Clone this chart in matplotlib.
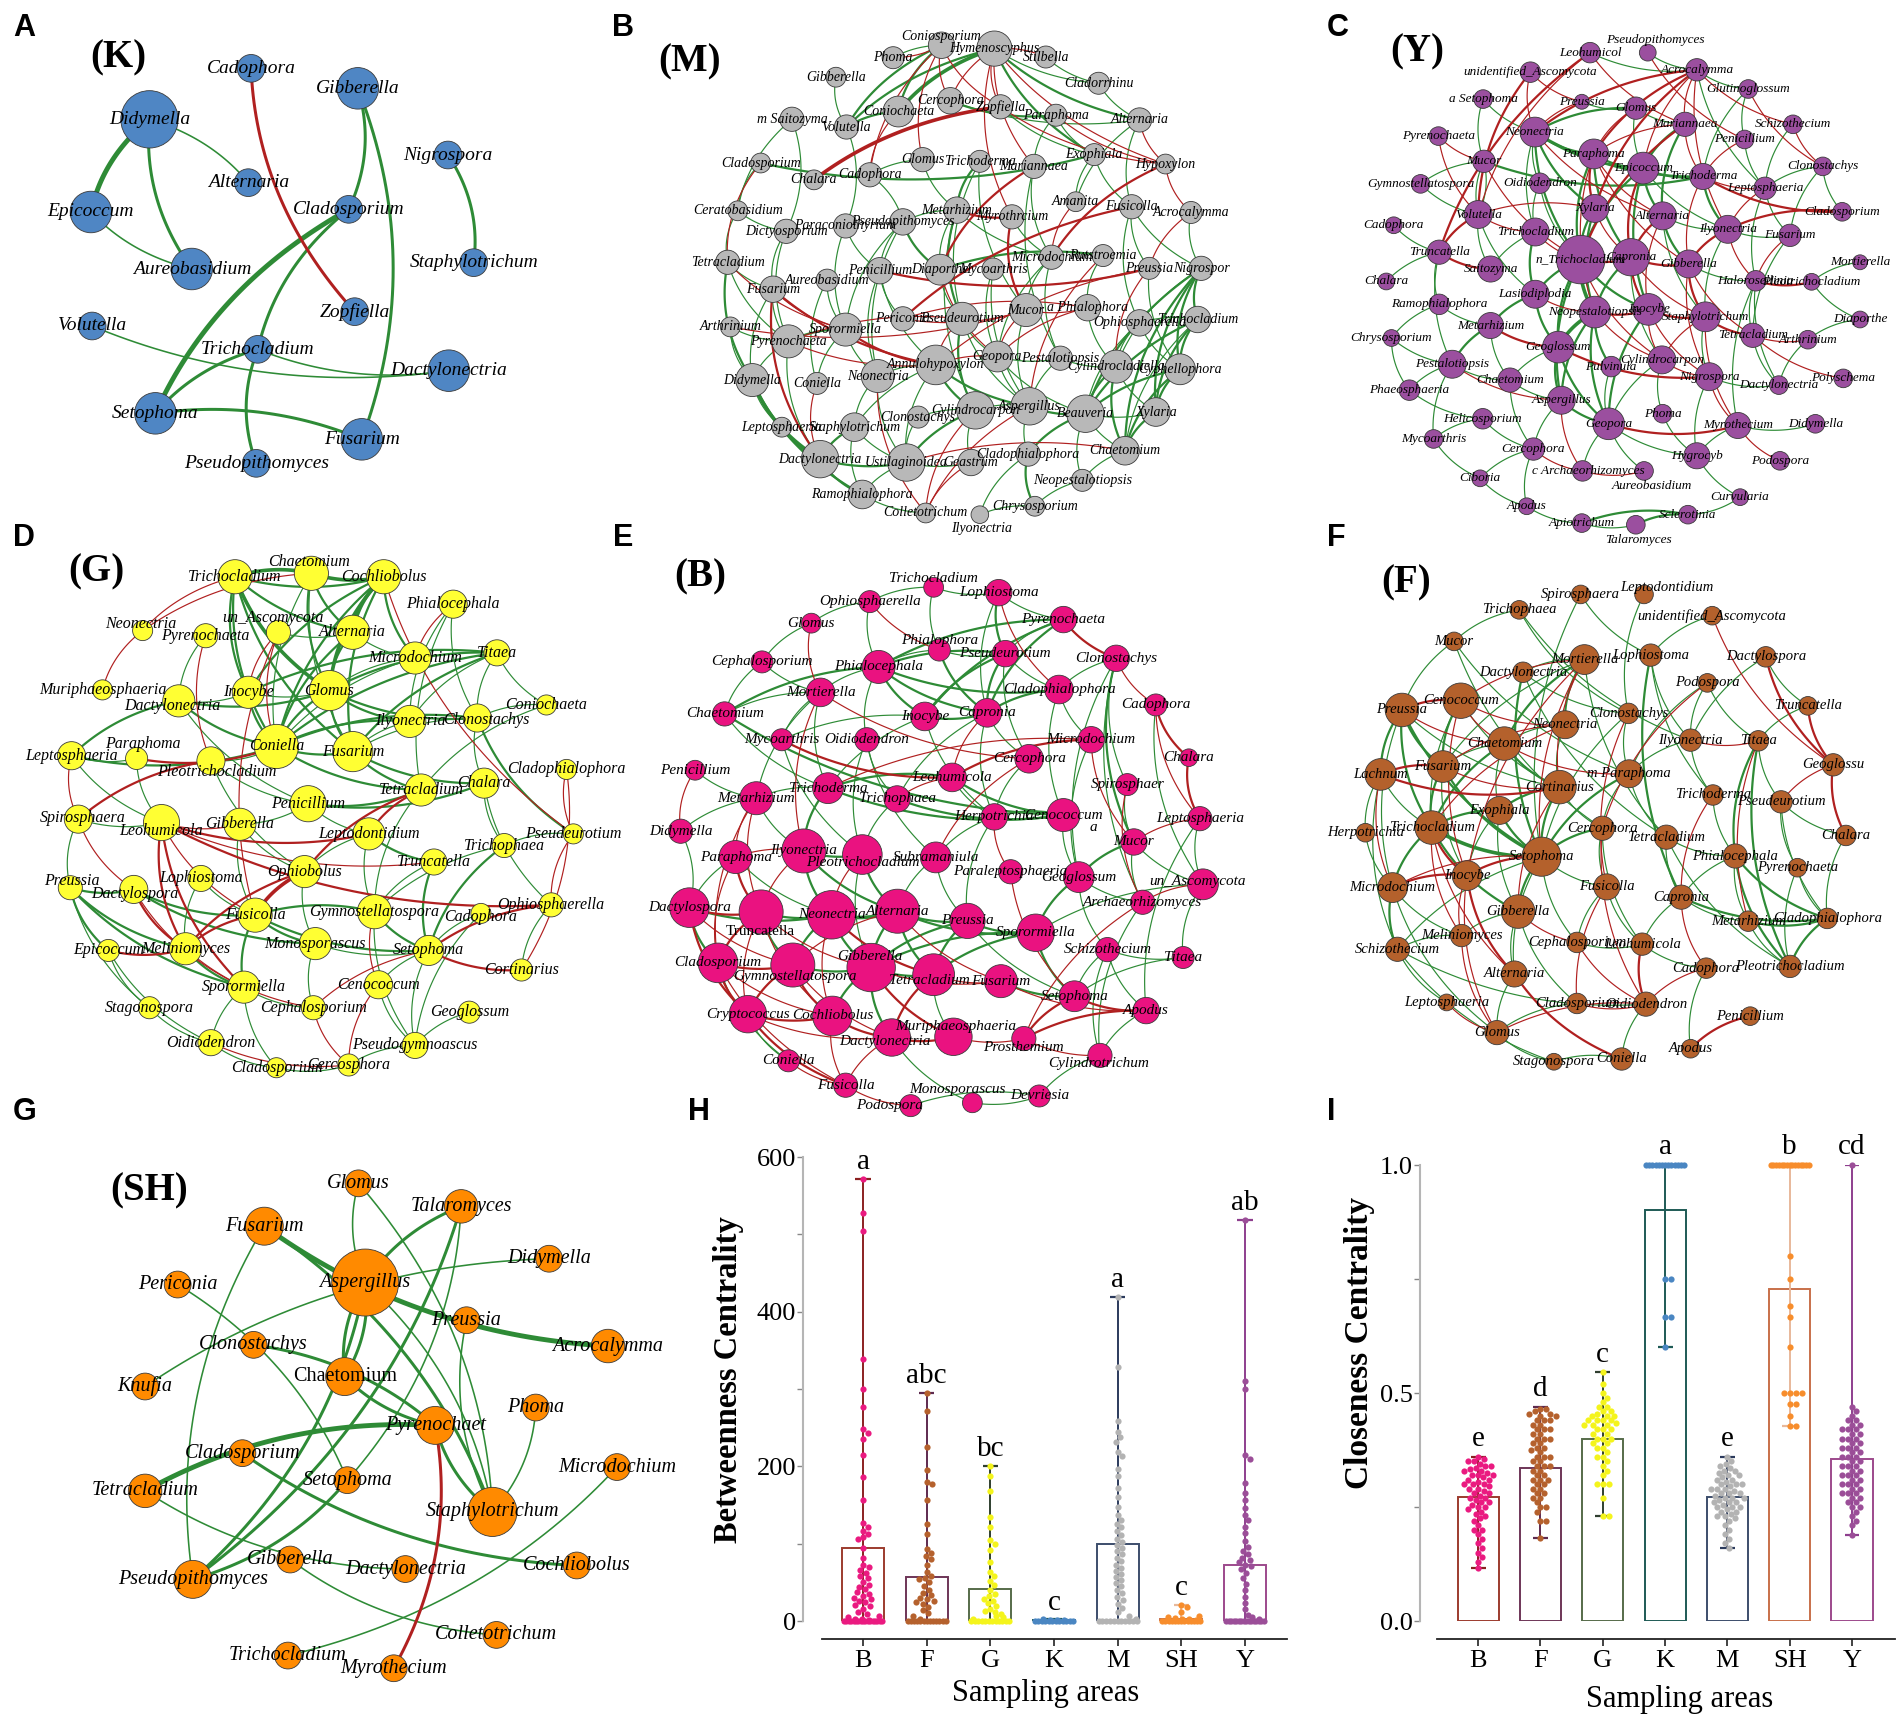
import numpy as np
import matplotlib.pyplot as plt
from matplotlib.collections import LineCollection

plt.rcParams['font.family'] = ['Liberation Serif', 'DejaVu Serif']

W, H = 1904, 1725
GREEN = '#2e8b36'
RED = '#b02020'

# ---------------- network panels ----------------
# node = (name, x, y, diameter[, label_x, label_y]) in the panel's own units
# edges "i-j:w"  (w = 1 thin, 2 medium, 3 thick)

k_nodes = [
    ("Cadophora", 635, 205, 70), ("Gibberella", 905, 265, 105),
    ("Didymella", 378, 358, 145), ("Nigrospora", 1133, 465, 70),
    ("Alternaria", 628, 548, 70), ("Epicoccum", 230, 636, 105),
    ("Cladosporium", 882, 628, 70), ("Staphylotrichum", 1198, 788, 70),
    ("Aureobasidium", 485, 807, 105), ("Zopfiella", 897, 935, 70),
    ("Volutella", 233, 978, 70), ("Trichocladium", 652, 1048, 70),
    ("Dactylonectria", 1135, 1112, 105), ("Setophoma", 393, 1240, 105),
    ("Fusarium", 915, 1318, 105), ("Pseudopithomyces", 648, 1390, 70),
]
k_green = "2-5:3 2-8:2 4-2 5-8 6-1:2 14-1:2 7-3:2 6-13:3 6-11:2 11-13:2 11-15:2 11-12 10-12 14-13:2"
k_red = "0-9:2"

sh_nodes = [
    ("Glomus", 803, 210, 60), ("Talaromyces", 1033, 268, 75), ("Fusarium", 592, 318, 85),
    ("Didymella", 1230, 400, 60), ("Aspergillus", 818, 460, 150), ("Periconia", 398, 465, 60),
    ("Preussia", 1045, 555, 60), ("Clonostachys", 568, 617, 60), ("Acrocalymma", 1362, 620, 75),
    ("Knufia", 325, 722, 60), ("Chaetomium", 772, 697, 85), ("Phoma", 1200, 775, 60),
    ("Pyrenochaet", 975, 820, 85), ("Cladosporium", 543, 890, 60), ("Microdochium", 1382, 925, 60),
    ("Setophoma", 778, 958, 60), ("Tetracladium", 325, 985, 75), ("Staphylotrichum", 1103, 1038, 110),
    ("Gibberella", 650, 1158, 60), ("Dactylonectria", 908, 1182, 60), ("Cochliobolus", 1292, 1173, 60),
    ("Pseudopithomyces", 432, 1208, 85), ("Colletotrichum", 1112, 1348, 60),
    ("Trichocladium", 645, 1400, 60), ("Myrothecium", 882, 1432, 60),
]
sh_green = ("2-8:3 17-2:2 2-21 0-4 17-0 1-4:2 15-1 21-1:2 3-9 4-10:2 10-4:2 21-4:2 17-4 "
            "15-5 12-7:2 10-12:2 6-17 12-16:3 16-19 12-17:2 17-11 13-20:2 23-14 18-22 21-15:2")
sh_red = "24-12:2"

m_nodes = [
    ("Coniosporium", 708, 75, 60, 708, 50), ("Hymenoscyphus", 828, 85, 80), ("Phoma", 598, 112, 50),
    ("Stilbella", 945, 110, 50), ("Gibberella", 468, 170, 45), ("Cladorrhinu", 1065, 188, 50),
    ("Cercophora", 728, 240, 60), ("Zopfiella", 842, 258, 55), ("Coniochaeta", 610, 272, 70),
    ("Paraphoma", 968, 283, 50), ("Alternaria", 1158, 297, 55), ("m Saitozyma", 368, 295, 55),
    ("Volutella", 492, 318, 55), ("Cladosporium", 297, 425, 45), ("Glomus", 665, 415, 55),
    ("Trichoderma", 795, 420, 50), ("Exophiala", 1055, 400, 50), ("Hypoxylon", 1217, 428, 45),
    ("Chalara", 418, 475, 45), ("Cadophora", 545, 460, 55), ("Mariannaea", 918, 435, 55),
    ("Amanita", 1013, 540, 45), ("Fusicolla", 1140, 555, 55), ("Acrocalymma", 1275, 572, 50),
    ("Ceratobasidium", 245, 567, 45), ("Metarhizium", 743, 565, 60), ("Myrothrcium", 868, 585, 55),
    ("Pseudopithomyces", 620, 600, 60), ("Paraconiothyrium", 490, 612, 55),
    ("Dictyosporium", 355, 628, 55), ("Rutstroemia", 1075, 700, 50), ("Microdochium", 958, 705, 55),
    ("Tetracladium", 222, 720, 55), ("Diaporthe", 705, 742, 70), ("Mycoarthris", 825, 740, 50),
    ("Preussia", 1180, 738, 50), ("Nigrospor", 1298, 738, 55), ("Penicillium", 568, 745, 60),
    ("Aureobasidium", 448, 773, 50), ("Fusarium", 325, 800, 60), ("Pseudeurotium", 755, 888, 75),
    ("Mucor", 900, 862, 75), ("a Phialophora", 1040, 855, 60), ("Trichocladium", 1290, 890, 60),
    ("Ophiosphaerella", 1158, 900, 60), ("Periconia", 620, 888, 55), ("Arthrinium", 228, 912, 45),
    ("Sporormiella", 490, 920, 75), ("Pyrenochaeta", 360, 955, 75), ("Geopora", 835, 1000, 70),
    ("Pestalotiopsis", 978, 1005, 55), ("Cylindrocladiella", 1105, 1030, 75),
    ("Cyphellophora", 1250, 1038, 70), ("Annulohypoxylon", 695, 1025, 90),
    ("Neonectria", 563, 1058, 75), ("Didymella", 278, 1070, 75), ("Coniella", 425, 1080, 50),
    ("Aspergillus", 908, 1148, 85), ("Cylindrocarpon", 785, 1160, 85), ("Beauveria", 1035, 1170, 85),
    ("Xylaria", 1195, 1165, 65), ("Clonostachys", 655, 1180, 50), ("Leptosphaeria", 345, 1210, 45),
    ("Staphylotrichum", 510, 1210, 65), ("Chaetomium", 1125, 1280, 65),
    ("Cladophialophora", 905, 1290, 55), ("Dactylonectria", 432, 1305, 85),
    ("Ustilaginoidea", 628, 1315, 85), ("Geastrum", 775, 1315, 60),
    ("Neopestalotiopsis", 1028, 1368, 50), ("Ramophialophora", 528, 1410, 65),
    ("Chrysosporium", 920, 1445, 45), ("Colletotrichum", 672, 1465, 45),
    ("Ilyonectria", 795, 1470, 40, 800, 1510),
]
m_green = ("1-8:3 0-8:2 0-12:2 1-12:2 8-12:2 1-16:2 1-5 3-5 5-10 1-10:2 0-2 "
           "4-12 11-24 13-24 24-32 32-55:2 32-39 46-55 55-66:3 66-70:2 70-72 55-70:2 62-66 "
           "14-19 14-25 15-25:2 15-40 15-41 13-16:2 6-9:2 6-10 7-16 9-16 9-20 10-22 10-21 16-21 16-22 "
           "20-50 20-31 22-35 22-44 22-36 23-36 24-29 25-27 25-31 25-33 25-40:2 25-58 26-31 "
           "27-33:2 27-47 27-54 27-37 27-19 28-47 28-12 28-37 29-39 29-48 29-11 30-42 30-33:2 "
           "31-49 31-41 31-50 32-48 33-40 34-57 34-49 35-52 36-43:2 36-52:2 36-60:2 36-59:2 36-64:2 36-51 "
           "37-45 37-53 37-54 38-56 38-47 39-48 39-55 40-58:2 40-49 40-57 41-57 42-51 43-52:2 43-59:2 "
           "43-60:2 43-64 43-44 44-52 44-59 44-51 46-48 47-48:2 47-56 47-54 48-55 48-66 49-59 49-57 49-50 "
           "50-57 50-51 51-59:2 51-60 51-64:2 52-59:2 52-60:2 52-64:2 53-57:2 53-58:2 53-67 53-54 53-63 "
           "54-67 54-63 55-62 57-59:2 57-58 57-65 58-67:2 58-68 58-61 59-64 59-65:2 59-69 59-60 60-64:2 "
           "61-67 63-66:2 63-67 63-70 64-69 65-71:2 65-73 66-67:2 67-70 67-68 69-71 71-73")
m_red = ("0-7 1-7 7-17 0-6 1-6 0-14 1-20 1-26 0-19 2-0 3-1 1-17 8-19 7-18:3 9-17 10-17 "
         "13-32 17-23 17-31:2 20-33:2 21-31 22-45:2 23-35 25-26:2 26-41:2 30-57 32-47 37-35:2 "
         "33-49 35-51 35-53 39-53:2 39-66:2 39-47 40-53 40-48 41-49 41-42 42-49 42-45 45-41 46-41 "
         "47-53:2 48-53 49-53 54-72 56-66 57-72 58-72 64-67 68-72")

y_nodes = [
    ("Pseudopithomyces", 880, 97, 45, 900, 58), ("Leohumicol", 725, 97, 55),
    ("unidentified_Ascomycota", 565, 155, 55), ("Acrocalymma", 1012, 148, 60),
    ("Glutinoglossum", 1150, 205, 50), ("a Setophoma", 438, 235, 50), ("Preussia", 703, 243, 40),
    ("Glomus", 848, 262, 60), ("Schizothecium", 1270, 310, 50), ("Mariannaea", 980, 310, 65),
    ("Pyrenochaeta", 318, 345, 50), ("Neonectria", 577, 333, 80), ("Penicillium", 1140, 355, 50),
    ("Paraphoma", 735, 398, 80), ("Mucor", 440, 420, 60), ("Epicoccum", 868, 440, 85),
    ("Clonostachys", 1350, 435, 50), ("Trichoderma", 1028, 465, 70),
    ("Gymnostellatospora", 270, 487, 50), ("Oidiodendron", 590, 485, 55),
    ("Leptosphaeria", 1195, 500, 60), ("Xylaria", 738, 560, 75), ("Alternaria", 920, 582, 75),
    ("Volutella", 425, 578, 75), ("Cladosporium", 1402, 570, 50), ("Cadophora", 198, 610, 45),
    ("Ilyonectria", 1095, 622, 75), ("Fusarium", 1262, 640, 60), ("Trichocladium", 578, 630, 75),
    ("Truncatella", 320, 690, 65), ("n_Trichocladium", 700, 712, 130), ("Capronia", 835, 705, 100),
    ("Gibberella", 990, 725, 75), ("Mortierella", 1450, 720, 40), ("Saitozyma", 458, 740, 70),
    ("Halorosellinia", 1170, 775, 55), ("Pleotrichocladium", 1320, 778, 45), ("Chalara", 178, 777, 45),
    ("Lasiodiplodia", 578, 815, 75), ("Ramophialophora", 320, 845, 55),
    ("Neopestalotiopsis", 738, 868, 85), ("Inocybe", 882, 860, 85), ("Staphylotrichum", 1035, 882, 80),
    ("Diaporthe", 1450, 890, 45), ("Metarhizium", 458, 908, 70), ("Chrysosporium", 192, 945, 45),
    ("Tetracladium", 1162, 937, 65), ("Arthrinium", 1310, 950, 50), ("Geoglossum", 640, 972, 85),
    ("Cylindrocarpon", 918, 1010, 75), ("Pestalotiopsis", 355, 1023, 75), ("Pulvinula", 782, 1030, 55),
    ("Nigrospora", 1045, 1060, 75), ("Chaetomium", 510, 1070, 65), ("Polyschema", 1405, 1065, 50),
    ("Dactylonectria", 1232, 1085, 50), ("Phaeosphaeria", 240, 1100, 55), ("Aspergillus", 648, 1130, 75),
    ("Phoma", 920, 1170, 50), ("Helicosporium", 437, 1185, 55), ("Geopora", 775, 1200, 85),
    ("Myrothecium", 1122, 1205, 70), ("Didymella", 1330, 1200, 50), ("Mycoarthris", 305, 1245, 50),
    ("Cercophora", 573, 1275, 60), ("Hygrocyb", 1012, 1295, 70), ("Podospora", 1235, 1310, 50),
    ("c Archaeorhizomyces", 705, 1340, 55, 720, 1340), ("Aureobasidium", 870, 1340, 50, 890, 1385),
    ("Ciboria", 430, 1362, 45), ("Curvularia", 1128, 1418, 45), ("Apodus", 555, 1445, 45),
    ("Sclerotinia", 988, 1470, 50), ("Apiotrichum", 703, 1495, 50),
    ("Talaromyces", 848, 1500, 50, 855, 1545),
]
y_green = ("1-3 3-4 3-20 4-12 4-17 5-11 5-14 6-7 7-9 7-11:2 7-15 8-20 9-15:2 9-22:2 "
           "11-13:2 11-15:2 11-17:2 11-21:2 11-30:2 11-28 11-19 12-20 13-15:2 13-30:2 13-31:2 "
           "14-18 14-23 14-17:2 15-22:2 15-17:2 15-30:2 15-41:2 15-26 16-20 16-24 16-27 17-26:2 "
           "18-23 19-28 19-30 20-27 20-35 21-30:2 21-40:2 22-32:2 22-26 22-42 23-34 23-38 25-29 "
           "26-42 26-27 27-46 28-34 28-38:2 29-37 29-39 29-50 30-40:3 30-41:2 30-38:2 30-48:2 30-57:2 "
           "31-40:2 31-49 32-35 33-36 35-46 35-55 35-61 36-43 38-44:2 38-48:2 39-44 39-45 40-48:3 "
           "40-57:2 40-60:2 40-51:2 41-60:2 42-52 44-50:2 44-53 45-50 45-56 46-55 47-55 48-57:2 48-53 "
           "48-60:2 49-58 49-60 50-53 50-56 50-63 51-60 52-55 52-65 53-57 53-64 56-59 57-60:2 57-64 "
           "58-65 59-64 59-63 60-65 60-68 60-67 61-65 61-62 63-69 64-69 64-71 65-70 69-71 71-73 "
           "72-73:2 72-74:2 72-70 73-74 0-3 23-14 43-47")
y_red = ("1-29:2 2-23:2 1-23 2-11 2-6 0-12 1-9 3-11:2 3-13:2 3-15 3-9 3-21:2 3-26 3-8 4-16 "
         "6-11 7-13 8-16 9-17 9-13 9-30:2 10-23 11-22 12-17 13-21:2 13-22 13-32 13-40 14-30 15-31:2 "
         "17-20 17-24:2 17-32 20-26 21-31 21-23 22-31:2 22-41 23-29:2 23-28 24-26:2 26-32:2 26-35 "
         "27-35 28-30 29-34:2 30-31:2 30-49 31-41:2 31-32:2 31-42 32-42:2 32-46 32-52 35-36:2 38-40 "
         "40-41:2 40-49 41-42:2 41-49 41-52 42-46:2 42-49 42-61 44-48:2 46-47 46-54 48-52:2 49-52 "
         "50-57 52-61 57-67 60-61:2 61-66 64-67 67-68 10-14")

g_nodes = [
    ("Chaetomium", 775, 68, 85, 770, 35), ("Trichocladium", 585, 78, 85), ("Cochliobolus", 955, 78, 85),
    ("Phialocephala", 1128, 158, 70), ("Neonectria", 355, 235, 50, 350, 215),
    ("un_Ascomycota", 693, 240, 60, 680, 198), ("Pyrenochaeta", 512, 250, 60),
    ("Alternaria", 878, 240, 85), ("Microdochium", 1033, 315, 80), ("Titaea", 1237, 300, 65),
    ("Muriphaeosphaeria", 255, 408, 50), ("Dactylonectria", 445, 440, 80, 430, 455),
    ("Inocybe", 618, 415, 80), ("Glomus", 820, 410, 100), ("Coniochaeta", 1360, 452, 50),
    ("Ilyonectria", 1020, 500, 80), ("Clonostachys", 1188, 490, 70, 1210, 495),
    ("Leptosphaeria", 178, 600, 70), ("Paraphoma", 340, 608, 55, 355, 565), ("Coniella", 688, 573, 110),
    ("Fusarium", 878, 588, 100), ("Pleotrichocladium", 525, 615, 70, 540, 648),
    ("Cladophialophora", 1410, 640, 50), ("Chalara", 1205, 680, 75), ("Tetracladium", 1048, 700, 80),
    ("Penicillium", 767, 740, 90), ("Spirosphaera", 195, 785, 70, 205, 782),
    ("Leohumicola", 402, 795, 90, 400, 820), ("Gibberella", 597, 800, 80), ("Pseudeurotium", 1427, 828, 50),
    ("Leptodontidium", 918, 828, 80), ("Trichophaea", 1255, 862, 60), ("Truncatella", 1080, 910, 65),
    ("Ophiobolus", 758, 938, 80), ("Lophiostoma", 500, 958, 65), ("Preussia", 175, 985, 60, 180, 965),
    ("Dactylospora", 333, 990, 70, 335, 1003), ("Ophiosphaerella", 1372, 1035, 60),
    ("Gymnostellatospora", 932, 1055, 85), ("Cadophora", 1197, 1060, 50, 1195, 1070),
    ("Fusicolla", 635, 1065, 85), ("Monosporascus", 785, 1148, 80), ("Epicoccum", 270, 1168, 55),
    ("Meliniomyces", 462, 1163, 80), ("Setophoma", 1067, 1168, 75), ("Cortinarius", 1298, 1225, 55),
    ("Sporormiella", 607, 1275, 80), ("Cenococcum", 942, 1268, 70), ("Stagonospora", 372, 1335, 55),
    ("Cephalosporium", 780, 1335, 60), ("Geoglossum", 1168, 1348, 55), ("Oidiodendron", 525, 1437, 65),
    ("Pseudogymnoascus", 1033, 1445, 65), ("Cladosporium", 688, 1510, 50), ("Cercosphora", 868, 1502, 55),
]
g_green = ("0-1:3 0-2:3 1-2:2 1-13:3 1-19:2 1-12:2 1-7:2 1-20:2 2-7:3 2-13:3 2-19:2 2-12:2 2-8:2 "
           "2-20:2 0-13:2 0-7:2 0-19 0-20 7-13:2 7-19:2 7-8 13-19:2 13-20:2 13-15:2 13-16:2 12-19:2 12-13 "
           "19-20:2 19-24:2 20-24:2 20-23:2 9-13:2 9-19:2 9-12:2 9-20:2 9-15 9-16 8-19 8-13 3-15 3-16 3-24 "
           "15-19:2 15-20 16-19:2 16-20 16-29:2 16-23 14-24 14-16 6-11 5-7 11-17:2 11-19:2 11-13:2 11-25 "
           "11-12 17-19:2 17-18 17-27 18-27 21-19 21-25 21-33 26-27 26-35 28-33 28-25 28-40 25-30 25-24:2 "
           "25-23:2 24-38 23-31 23-37 29-31 30-32:2 30-33 30-38 31-44:2 31-38 32-44:2 32-38 33-41 34-43 "
           "34-40 35-36:2 35-42:2 35-43:2 35-46:2 35-48 36-40:2 36-41:2 37-45 38-40:2 38-44:2 38-52 39-44 "
           "39-52 40-41:2 40-46:2 40-44:2 41-44 41-49 42-48 42-51 43-46:2 44-47 44-52 46-51 46-49 46-53 "
           "47-52 48-51 50-52 51-53 52-54 53-54 9-14")
g_red = ("3-8 22-29 1-4 4-10 6-21 5-19 5-12 5-40 17-26 18-19:2 21-26:2 26-36 27-28 27-30:2 27-43:2 "
         "27-40 27-46:2 27-32 27-37:2 24-30:2 24-33:2 33-40:3 33-43:2 36-43:2 36-46 37-44:2 38-47 "
         "40-43:2 42-43:2 43-49 44-45:2 44-49 45-22 47-54 49-54 51-54 29-37 0-4 2-29")

b_nodes = [
    ("Trichocladium", 690, 90, 45, 690, 65), ("Lophiostoma", 838, 105, 60), ("Ophiosphaerella", 545, 130, 50),
    ("Glomus", 412, 190, 45), ("Pyrenochaeta", 985, 180, 60), ("Phialophora", 703, 265, 50, 703, 237),
    ("Pseudeurotium", 853, 275, 60), ("Cephalosporium", 300, 298, 50), ("Clonostachys", 1105, 288, 60),
    ("Phialocephala", 565, 312, 75), ("Mortierella", 433, 383, 65), ("Cladophialophora", 975, 375, 65),
    ("Chaetomium", 215, 443, 55), ("Inocybe", 670, 450, 65), ("Capronia", 812, 440, 65),
    ("Cadophora", 1195, 418, 50), ("Mycoarthris", 345, 515, 50), ("Oidiodendron", 538, 515, 55),
    ("Microdochium", 1048, 515, 60), ("Cercophora", 907, 568, 65), ("Chalara", 1270, 565, 40),
    ("Penicillium", 148, 600, 45), ("Leohumicola", 732, 620, 65), ("Spirosphaer", 1130, 640, 50),
    ("Trichoderma", 450, 650, 70), ("Trichophaea", 607, 680, 60), ("Metarhizium", 287, 678, 75),
    ("Cenococcum", 985, 725, 75), ("Herpotrichia", 828, 730, 60), ("Leptosphaeria", 1295, 735, 55),
    ("Didymella", 115, 770, 55), ("Mucor", 1145, 800, 60), ("Ilyonectria", 395, 825, 100),
    ("Pleotrichocladium", 528, 835, 90, 530, 858), ("Subramaniula", 695, 843, 70),
    ("Paraphoma", 240, 842, 75), ("Paraleptosphaeria", 865, 883, 55), ("Geoglossum", 1020, 898, 70),
    ("un_Ascomycota", 1302, 918, 70, 1290, 910), ("Archaeorhizomyces", 1165, 968, 55),
    ("Dactylospora", 135, 983, 90), ("Truncatella", 298, 995, 100, 295, 1050),
    ("Neonectria", 458, 1003, 110), ("Alternaria", 608, 993, 100), ("Preussia", 767, 1020, 80),
    ("Sporormiella", 922, 1053, 85), ("Schizothecium", 1085, 1100, 55), ("Titaea", 1257, 1122, 50),
    ("Cladosporium", 200, 1137, 90), ("Gymnostellatospora", 370, 1143, 100, 375, 1175),
    ("Gibberella", 548, 1150, 110, 545, 1120), ("Tetracladium", 690, 1170, 95, 680, 1185),
    ("Fusarium", 843, 1188, 75), ("Setophoma", 1010, 1230, 70), ("Apodus", 1173, 1270, 60),
    ("Cryptococcus", 268, 1280, 85), ("Cochliobolus", 460, 1285, 90),
    ("Dactylonectria", 595, 1345, 85, 580, 1355), ("Muriphaeosphaeria", 735, 1343, 85, 740, 1315),
    ("Prosthemium", 895, 1348, 55, 895, 1372), ("Cylindrotrichum", 1068, 1395, 55, 1065, 1418),
    ("Coniella", 360, 1410, 50), ("Fusicolla", 490, 1478, 55),
    ("Monosporascus", 778, 1527, 45, 745, 1490), ("Devriesia", 930, 1508, 50),
    ("Podospora", 638, 1535, 50, 590, 1535),
]
b_green = ("0-2 0-1 0-5 1-4 1-6:2 1-14 2-3 2-9 3-7 4-6 4-9:2 4-13:2 4-14:2 5-6 5-9 5-14:2 6-9:2 "
           "6-14:2 6-11 6-13:2 6-19 7-12 7-10 8-11 8-23 8-31:2 8-37 8-39 9-10 9-12:2 9-13:2 9-14:2 9-11:2 "
           "9-17 10-12 10-16 10-26 10-24 11-14:2 11-18 11-27 12-27:2 12-24 13-14:2 13-16 13-24 13-28 14-19 "
           "14-25 14-28 15-38 16-33 17-25 17-33 17-34 18-37 19-28 21-26 22-24:2 22-27:2 22-28 23-31 24-26 "
           "24-32:2 24-27:2 25-27:2 25-33 26-30 26-32 27-28:2 27-37 28-34 28-44 29-54 29-38 31-37:2 31-38 "
           "31-39 32-33:2 32-42:2 32-43:2 33-43:2 33-50 34-44 34-43 35-40 35-42 37-45:2 37-39 37-46 38-45 "
           "38-47 39-60 40-48:2 40-42:2 41-42:2 41-49:2 42-43:3 42-49:2 42-50:2 43-44:2 43-50:2 43-51:2 "
           "43-45:2 44-45:2 44-51:2 44-50:2 44-53 45-51:2 45-50:2 45-53:2 46-54 46-53 46-47 46-60 47-53 "
           "48-61 49-50:2 50-51:2 50-56:2 50-57:2 51-58 52-53:2 54-60 55-61 57-63 60-64 63-64 64-65 40-30")
b_red = ("1-11 2-5 3-10 4-8:2 8-15 10-32 10-19 14-22 15-29 15-20:2 16-22:2 18-22:2 18-24 18-31 "
         "19-34 20-29:2 21-30 22-25 23-39 26-35 26-41 26-48 28-36 29-31 32-35 32-41 33-42 35-41:2 "
         "35-48 36-53 38-39 39-59 40-41:2 40-55:2 40-49 41-48:2 41-50 41-56 42-51:2 42-56 43-52 43-49 "
         "48-49:2 48-55:2 48-56 49-55:2 49-56:2 49-57 50-58:2 50-52 51-52 51-57:2 52-54 53-54:2 53-59:2 "
         "54-59:2 55-56:2 55-62:2 56-57:2 56-62 57-58:2 57-62 58-59 59-60 62-65 61-62 41-55 48-62 55-57")

f_nodes = [
    ("Spirosphaera", 700, 115, 50), ("Leptodontidium", 870, 115, 50, 930, 95), ("Trichophaea", 535, 160, 50),
    ("unidentified_Ascomycota", 1053, 177, 50), ("Mucor", 360, 252, 50), ("Lophiostoma", 888, 292, 60),
    ("Mortierella", 710, 305, 80), ("Dactylospora", 1197, 297, 55), ("Dactylonectria", 545, 342, 55),
    ("Podospora", 1040, 373, 50), ("Cenococcum", 378, 425, 95), ("Preussia", 220, 452, 90),
    ("Truncatella", 1310, 440, 50), ("Clonostachys", 828, 462, 55), ("Neonectria", 658, 495, 75),
    ("Chaetomium", 495, 550, 90), ("Ilyonectria", 995, 540, 60), ("Titaea", 1177, 542, 55),
    ("Fusarium", 330, 617, 85), ("Geoglossu", 1378, 612, 60), ("Lachnum", 163, 640, 85),
    ("m Paraphoma", 830, 638, 75), ("Cortinarius", 643, 677, 90), ("Trichoderma", 1055, 700, 55),
    ("Pseudeurotium", 1238, 720, 60), ("Exophiala", 482, 745, 75), ("Trichocladium", 300, 795, 90),
    ("Herpotrichia", 122, 810, 50), ("Cercophora", 758, 797, 65), ("Tetracladium", 930, 823, 65),
    ("Chalara", 1412, 818, 55), ("Setophoma", 595, 880, 105), ("Phialocephala", 1115, 878, 65),
    ("Pyrenochaeta", 1282, 912, 50), ("Inocybe", 395, 935, 80), ("Microdochium", 195, 970, 80),
    ("Fusicolla", 770, 968, 70), ("Capronia", 970, 998, 65), ("Gibberella", 532, 1040, 90),
    ("Metarhizium", 1150, 1068, 55), ("Cladophialophora", 1362, 1060, 55), ("Meliniomyces", 380, 1110, 60),
    ("Cephalosporium", 690, 1130, 55), ("Leohumicola", 865, 1135, 60), ("Schizothecium", 208, 1150, 65),
    ("Pleotrichocladium", 1262, 1200, 60), ("Cadophora", 1037, 1205, 55), ("Alternaria", 522, 1222, 70),
    ("Leptosphaeria", 340, 1305, 45), ("Cladosporium", 690, 1308, 55), ("Oidiodendron", 875, 1310, 65),
    ("Penicillium", 1155, 1345, 50), ("Glomus", 475, 1393, 65), ("Apodus", 995, 1440, 50),
    ("Coniella", 810, 1470, 60), ("Stagonospora", 628, 1478, 45),
]
f_green = ("0-5 0-31 2-4 2-16 2-13 1-13 3-5 4-11 4-21 4-28 5-16 5-23 5-37:2 6-8 6-14:2 6-15:2 "
           "6-29 6-18 7-16 7-12 8-31:2 8-13 8-29 9-21 9-16 9-17 10-18:2 10-26 10-22 11-18:2 11-20:2 "
           "11-26:2 11-22 11-35 11-31:2 12-17 13-21 13-31 14-15 14-22 15-18 15-26:2 15-25 15-22:2 16-21 "
           "16-23 17-24 17-32:2 17-45:2 18-26:2 18-34 18-31:2 20-26 20-27 20-44 21-31:2 21-28 21-29 "
           "22-25:2 22-31:2 22-28 23-32 24-33 24-40 24-30 25-31:2 25-26:2 25-34 25-38 26-31:3 26-35:2 "
           "26-38:2 27-35 28-31:2 28-36 28-43 29-32 29-37 29-45 30-40 31-38:2 31-36 31-42 31-47 31-44 "
           "32-37 32-39 32-40:2 32-45:2 33-40 33-45 35-44:2 35-41 35-52 36-42 36-43 37-39 37-43 37-40:2 "
           "38-41 38-47 38-49 39-40:2 39-45 40-45:2 41-44 42-43 43-46 44-48 44-50 46-53 47-52 49-52 "
           "50-54 52-55 54-55 44-55")
f_red = ("3-19 6-10 6-34 6-31 6-22 7-19:2 9-28 10-11:2 10-15 10-14 10-34 11-15 12-19:2 13-36 "
         "14-18 14-26 15-21 16-17 17-39 18-20:2 18-22 19-24 19-30:2 20-35 20-22:2 22-38 23-37 "
         "26-34:2 26-41 26-47 28-50 31-34:2 31-35 34-35:2 34-41 34-47:2 34-52 36-49 37-46 38-42 "
         "41-52 42-50 43-50:2 46-50 47-54:2 48-52 49-50 51-53:2 50-52")

# ---------------- centrality panels ----------------
areas = ["B", "F", "G", "K", "M", "SH", "Y"]
dot_colors = ['#ea1a80', '#b5612d', '#f4f41c', '#4a86c2', '#b3b3b3', '#f78d2c', '#9b4e98']
bar_edges = ['#9c3b2e', '#6e3557', '#566b4a', '#1e5a55', '#3c4d6b', '#c8704a', '#9d4a8c']
err_colors = ['#8b2020', '#5e2a4f', '#2f3f2f', '#1e5a55', '#2b3a5c', '#e8b89a', '#8e3f8e']

bet_means = [94, 57, 42, 1, 100, 3, 72]
bet_max = [572, 295, 201, 2, 419, 21, 519]
bet_letters = ["a", "abc", "bc", "c", "a", "c", "ab"]
bet_B = [572, 527, 504, 339, 300, 277, 248, 243, 235, 215, 186, 156, 127, 122, 117, 113, 109, 106,
         94, 81, 73, 70, 66, 62, 58, 55, 50, 47, 44, 41, 37, 35, 32, 30, 28, 26, 24, 21, 19, 15, 12,
         9, 7, 5, 3, 2, 1, 0, 0, 0, 0, 0, 0, 0, 0, 0, 0, 0, 0, 0, 0, 0, 0, 0]
bet_F = [295, 272, 225, 195, 180, 177, 156, 125, 113, 93, 88, 84, 80, 72, 64, 58, 56, 54, 50, 45,
         40, 36, 33, 30, 28, 26, 24, 22, 18, 14, 10, 6, 3, 0, 0, 0, 0, 0, 0, 0, 0, 0, 0, 0, 0, 0]
bet_G = [201, 188, 168, 135, 121, 105, 100, 92, 76, 64, 58, 52, 46, 40, 35, 32, 29, 26, 23, 19, 16,
         13, 11, 9, 7, 5, 3, 0, 0, 0, 0, 0, 0, 0, 0, 0, 0, 0, 0]
bet_K = [2, 1, 1, 1, 0, 0, 0, 0, 0, 0, 0, 0, 0, 0, 0, 0]
bet_M = [419, 328, 258, 245, 238, 232, 218, 213, 196, 187, 172, 160, 148, 137, 131, 126, 121, 116,
         111, 106, 102, 98, 94, 90, 86, 82, 77, 73, 69, 65, 61, 57, 53, 49, 45, 40, 36, 31, 27, 22,
         17, 12, 7, 3, 0, 0, 0, 0, 0, 0, 0, 0, 0, 0, 0]
bet_SH = [21, 18, 11, 7, 5, 4, 3, 2, 1, 0, 0, 0, 0, 0, 0, 0, 0, 0, 0, 0, 0, 0]
bet_Y = [519, 310, 300, 215, 210, 178, 165, 156, 146, 137, 130, 122, 114, 103, 96, 91, 86, 82, 79,
         76, 73, 71, 67, 62, 55, 48, 40, 31, 23, 15, 8, 5, 2, 0, 0, 0, 0, 0, 0, 0, 0, 0, 0, 0, 0,
         0, 0, 0, 0]

clo_means = [0.273, 0.336, 0.40, 0.902, 0.271, 0.727, 0.356]
clo_min = [0.116, 0.182, 0.231, 0.60, 0.159, 0.428, 0.189]
clo_max = [0.36, 0.47, 0.545, 1.0, 0.36, 1.0, 1.0]
clo_letters = ["e", "d", "c", "a", "e", "b", "cd"]
clo_B = [0.36, 0.355, 0.35, 0.35, 0.345, 0.34, 0.34, 0.335, 0.333, 0.33, 0.33, 0.325, 0.32, 0.32,
         0.32, 0.315, 0.31, 0.31, 0.305, 0.30, 0.30, 0.30, 0.295, 0.29, 0.29, 0.285, 0.28, 0.28,
         0.275, 0.27, 0.27, 0.265, 0.26, 0.26, 0.255, 0.25, 0.25, 0.245, 0.24, 0.235, 0.23, 0.225,
         0.22, 0.21, 0.20, 0.20, 0.19, 0.18, 0.17, 0.16, 0.15, 0.14, 0.13, 0.116]
clo_F = [0.465, 0.465, 0.46, 0.455, 0.455, 0.45, 0.45, 0.44, 0.44, 0.44, 0.43, 0.43, 0.42, 0.42,
         0.42, 0.41, 0.41, 0.40, 0.40, 0.40, 0.39, 0.39, 0.38, 0.38, 0.375, 0.37, 0.36, 0.36, 0.36,
         0.35, 0.35, 0.34, 0.34, 0.34, 0.33, 0.33, 0.32, 0.32, 0.31, 0.31, 0.31, 0.30, 0.30, 0.29,
         0.29, 0.28, 0.28, 0.27, 0.27, 0.26, 0.25, 0.25, 0.24, 0.22, 0.22, 0.182]
clo_G = [0.545, 0.52, 0.50, 0.49, 0.48, 0.47, 0.47, 0.46, 0.46, 0.455, 0.45, 0.45, 0.45, 0.44,
         0.44, 0.44, 0.44, 0.435, 0.43, 0.43, 0.43, 0.42, 0.42, 0.42, 0.41, 0.41, 0.40, 0.40, 0.40,
         0.39, 0.39, 0.38, 0.38, 0.37, 0.36, 0.36, 0.35, 0.34, 0.33, 0.32, 0.30, 0.30, 0.30, 0.27,
         0.231, 0.231]
clo_K = [1.0, 1.0, 1.0, 1.0, 1.0, 1.0, 1.0, 1.0, 1.0, 1.0, 1.0, 1.0, 1.0, 0.75, 0.75, 0.667,
         0.667, 0.60]
clo_M = [0.36, 0.35, 0.345, 0.34, 0.335, 0.33, 0.33, 0.325, 0.32, 0.32, 0.315, 0.31, 0.31, 0.305,
         0.30, 0.30, 0.30, 0.295, 0.29, 0.29, 0.29, 0.285, 0.28, 0.28, 0.28, 0.275, 0.27, 0.27,
         0.27, 0.265, 0.26, 0.26, 0.26, 0.255, 0.25, 0.25, 0.25, 0.245, 0.24, 0.24, 0.235, 0.23,
         0.23, 0.225, 0.22, 0.21, 0.20, 0.19, 0.18, 0.17, 0.159]
clo_SH = [1.0, 1.0, 1.0, 1.0, 1.0, 1.0, 1.0, 1.0, 1.0, 1.0, 1.0, 1.0, 1.0, 1.0, 1.0, 0.80, 0.75,
          0.69, 0.667, 0.60, 0.50, 0.50, 0.50, 0.50, 0.476, 0.476, 0.45, 0.428, 0.428]
clo_Y = [1.0, 0.47, 0.46, 0.45, 0.44, 0.44, 0.43, 0.43, 0.42, 0.42, 0.42, 0.41, 0.41, 0.40, 0.40,
         0.40, 0.39, 0.39, 0.38, 0.38, 0.38, 0.37, 0.37, 0.36, 0.36, 0.36, 0.35, 0.35, 0.34, 0.34,
         0.34, 0.33, 0.33, 0.32, 0.32, 0.32, 0.31, 0.31, 0.30, 0.30, 0.30, 0.29, 0.29, 0.28, 0.28,
         0.28, 0.27, 0.27, 0.26, 0.26, 0.25, 0.25, 0.24, 0.23, 0.22, 0.21, 0.189]

fig = plt.figure(figsize=(W / 100, H / 100), dpi=100)


def bezier(p0, p1, bend=0.16, n=40):
    p0 = np.asarray(p0, float)
    p1 = np.asarray(p1, float)
    d = p1 - p0
    c = (p0 + p1) / 2 + bend * np.array([-d[1], d[0]])
    t = np.linspace(0, 1, n)[:, None]
    return (1 - t) ** 2 * p0 + 2 * (1 - t) * t * c + t ** 2 * p1


def draw_network(box, hp, nodes, green, red, color, fs, title, title_xy,
                 lw_scale=1.0, upright=(), extra=()):
    x0, y0, w, h = box
    ax = fig.add_axes([x0 / W, 1 - (y0 + h) / H, w / W, h / H])
    ax.set_xlim(0, 1568)
    ax.set_ylim(hp, 0)
    ax.axis('off')
    pos = [(nd[1], nd[2]) for nd in nodes]
    segs, lws, cols = [], [], []
    for edges, col in ((green, GREEN), (red, RED)):
        for tok in edges.split():
            pair, _, wgt = tok.partition(':')
            a, b = map(int, pair.split('-'))
            segs.append(bezier(pos[a], pos[b]))
            lws.append({1: 0.85, 2: 1.6, 3: 2.6}[int(wgt or 1)] * lw_scale)
            cols.append(col)
    ax.add_collection(LineCollection(segs, colors=cols, linewidths=lws, zorder=1))
    px = w / 1568
    sizes = [(nd[3] * px * 0.72) ** 2 for nd in nodes]
    ax.scatter([p[0] for p in pos], [p[1] for p in pos], s=sizes, c=color,
               edgecolors='#3a3a3a', linewidths=0.6, zorder=2)
    for nd in nodes:
        lx, ly = (nd[4], nd[5]) if len(nd) > 4 else (nd[1], nd[2])
        ax.text(lx, ly, nd[0], ha='center', va='center', fontsize=fs, zorder=3,
                style='normal' if nd[0] in upright else 'italic')
    for txt, tx, ty in extra:
        ax.text(tx, ty, txt, ha='center', va='center', fontsize=fs, style='italic', zorder=3)
    ax.text(title_xy[0], title_xy[1], title, ha='center', va='center',
            fontsize=28, fontweight='bold', zorder=4)


draw_network((0, 0, 620, 500), 1500, k_nodes, k_green, k_red, '#4f86c4', 14, "(K)", (300, 175),
             lw_scale=1.35)
draw_network((630, 20, 690, 530), 1575, m_nodes, m_green, m_red, '#b8b8b8', 10, "(M)", (135, 125))
draw_network((1320, 20, 584, 530), 1575, y_nodes, y_green, y_red, '#9b4f9f', 9.5, "(Y)", (260, 95))
draw_network((0, 550, 630, 540), 1575, g_nodes, g_green, g_red, '#ffff33', 11.5, "(G)", (240, 65))
draw_network((630, 555, 690, 565), 1575, b_nodes, b_green, b_red, '#ea1280', 11, "(B)", (160, 60),
             upright=("Truncatella",), extra=(("a", 1053, 760),))
draw_network((1320, 555, 584, 540), 1575, f_nodes, f_green, f_red, '#b4612c', 10.5, "(F)", (230, 80))
draw_network((0, 1100, 700, 625), 1575, sh_nodes, sh_green, sh_red, '#ff8a00', 14.5, "(SH)", (335, 230),
             lw_scale=1.35, upright=("Chaetomium",))


def swarm_offsets(vals, yppu, d, hw):
    vals = np.asarray(vals, float)
    off = np.zeros(len(vals))
    done = np.zeros(len(vals), bool)
    placed = []
    cap = int(2 * hw // d) + 1
    for v in np.unique(vals):
        idx = np.where(vals == v)[0]
        if len(idx) > cap:
            xs = np.linspace(-hw, hw, len(idx))
            off[idx] = xs
            done[idx] = True
            placed += [(x, v * yppu) for x in xs]
    for i in np.argsort(-vals, kind='stable'):
        if done[i]:
            continue
        y = vals[i] * yppu
        near = [(px, py) for px, py in placed if abs(py - y) < d]
        cands = [0.0]
        for px, py in near:
            dx = np.sqrt(max(d * d - (py - y) ** 2, 0))
            cands += [px + dx, px - dx]
        cands.sort(key=abs)
        best = None
        for c in cands:
            if abs(c) > hw:
                continue
            if all((c - px) ** 2 + (y - py) ** 2 >= d * d * 0.999 for px, py in near):
                best = c
                break
        if best is None:
            best = ((len(placed) * 0.37) % 2 - 1) * hw
        off[i] = best
        placed.append((best, y))
    return off


def centrality_panel(box, xlim, ylim, yticks, yminor, ytlabels, values, means, lows, highs,
                     letters, pad, ylabel, ylab_size, ylab_xy, xlab_xy, left_off):
    x0, y0, x1, y1 = box
    ax = fig.add_axes([x0 / W, 1 - y1 / H, (x1 - x0) / W, (y1 - y0) / H])
    ax.set_xlim(*xlim)
    ax.set_ylim(*ylim)
    xppu = (x1 - x0) / (xlim[1] - xlim[0])
    yppu = (y1 - y0) / (ylim[1] - ylim[0])
    pos = np.arange(len(areas))
    ax.bar(pos, means, width=0.66, facecolor='white', edgecolor=bar_edges, linewidth=1.4, zorder=1)
    for i, vals in enumerate(values):
        ax.vlines(i, lows[i], highs[i], color=err_colors[i], lw=1.4, zorder=2)
        ax.hlines([lows[i], highs[i]], i - 0.12, i + 0.12, color=err_colors[i], lw=1.6, zorder=2)
        off = swarm_offsets(vals, yppu, 6.0, 19.0)
        ax.scatter(i + off / xppu, vals, s=20, color=dot_colors[i], linewidths=0, zorder=3,
                   clip_on=False)
        ax.text(i, highs[i] + pad, letters[i], ha='center', va='bottom', fontsize=21)
    for s in ('top', 'right'):
        ax.spines[s].set_visible(False)
    ax.spines['left'].set_position(('outward', left_off))
    ax.spines['bottom'].set_position(('outward', 13))
    ax.spines['left'].set_bounds(ylim[0], yticks[-1])
    ax.spines['left'].set_color('#b5b5b5')
    ax.spines['left'].set_linewidth(1.5)
    ax.spines['bottom'].set_color('#222222')
    ax.spines['bottom'].set_linewidth(1.3)
    ax.set_yticks(yticks)
    ax.set_yticklabels(ytlabels)
    ax.set_yticks(yminor, minor=True)
    ax.set_xticks(pos)
    ax.set_xticklabels(areas)
    ax.tick_params(axis='y', which='both', length=4, width=1, color='#888888', labelsize=19, pad=1)
    ax.tick_params(axis='x', length=5, width=1.2, color='#222222', labelsize=19, pad=3)
    ax.set_ylabel(ylabel, fontsize=ylab_size, fontweight='bold')
    ax.yaxis.set_label_coords(*ylab_xy)
    ax.set_xlabel("Sampling areas", fontsize=22)
    ax.xaxis.set_label_coords(*xlab_xy)


centrality_panel((822, 1157, 1287, 1621), (-0.645, 6.66), (0, 600), [0, 200, 400, 600],
                 [100, 300, 500], ["0", "200", "400", "600"],
                 [bet_B, bet_F, bet_G, bet_K, bet_M, bet_SH, bet_Y], bet_means,
                 [0] * 7, bet_max, bet_letters, 5, "Betweenness Centrality", 23.5,
                 (-0.168, 0.52), (0.48, -0.125), 13.7)
centrality_panel((1437, 1165, 1895, 1621), (-0.66, 6.69), (0, 1.0), [0.0, 0.5, 1.0],
                 [0.25, 0.75], ["0.0", "0.5", "1.0"],
                 [clo_B, clo_F, clo_G, clo_K, clo_M, clo_SH, clo_Y], clo_means,
                 clo_min, clo_max, clo_letters, 0.01, "Closeness Centrality", 24,
                 (-0.135, 0.61), (0.53, -0.14), 12.2)

# panel letters
for letter, lx, ly in (("A", 13, 13), ("B", 612, 13), ("C", 1327, 13),
                       ("D", 13, 523), ("E", 613, 523), ("F", 1327, 523),
                       ("G", 13, 1097), ("H", 688, 1097), ("I", 1327, 1097)):
    fig.text(lx / W, 1 - ly / H, letter, ha='left', va='top', fontsize=22,
             fontweight='bold', family=['Liberation Sans', 'DejaVu Sans'])

fig.savefig("out.png", dpi=100)
